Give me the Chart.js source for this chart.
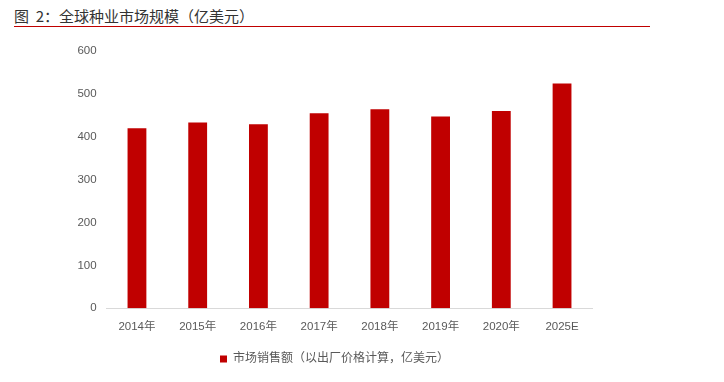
<!DOCTYPE html>
<html>
<head>
<meta charset="utf-8">
<script src="https://cdn.jsdelivr.net/npm/chart.js@4"></script>
<style>
  html, body { margin:0; padding:0; background:#fff; }
  #wrap { position:relative; width:724px; height:382px; overflow:hidden; }
  #title { position:absolute; left:14px; top:6px; width:636px; height:20px;
    border-bottom:1px solid #C00000; font-family:"Noto Sans CJK SC", sans-serif;
    font-size:15px; line-height:20px; color:#333; white-space:pre; }
  canvas { position:absolute; left:0; top:0; }
</style>
</head>
<body>
<div id="wrap">
  <div id="title">图  2：全球种业市场规模（亿美元）</div>
  <canvas id="c" width="724" height="382"></canvas>
</div>
<script>
const categories = ["2014年","2015年","2016年","2017年","2018年","2019年","2020年","2025E"];
const salesValues = [420, 433, 429, 455, 464, 447, 460, 524];
const seriesName = "市场销售额（以出厂价格计算，亿美元）";
const yTicks = [0, 100, 200, 300, 400, 500, 600];

const FONT = '"Liberation Sans", "Noto Sans CJK SC", sans-serif';

new Chart(document.getElementById('c'), {
  type: 'bar',
  data: {
    labels: categories,
    datasets: [{
      label: seriesName,
      data: salesValues,
      backgroundColor: '#C00000',
      borderWidth: 0,
      barPercentage: 0.31,
      categoryPercentage: 1.0
    }]
  },
  options: {
    responsive: false,
    animation: false,
    devicePixelRatio: 1,
    layout: { padding: { top: 51, left: 76.6, right: 131.6, bottom: 7 } },
    plugins: {
      tooltip: { enabled: false },
      legend: {
        position: 'bottom',
        labels: {
          boxWidth: 7, boxHeight: 7, padding: 7,
          color: '#595959',
          font: { family: FONT, size: 12 }
        }
      }
    },
    scales: {
      x: {
        grid: { display: false, drawTicks: false },
        border: { display: true, color: '#d9d9d9', width: 1 },
        ticks: { color: '#595959', font: { family: FONT, size: 11.5 }, padding: 12, maxRotation: 0 }
      },
      y: {
        min: 0, max: 600,
        afterBuildTicks: (s) => { s.ticks = yTicks.map(v => ({ value: v })); },
        afterFit: (s) => { s.width = 30; },
        grid: { display: false, drawTicks: false },
        border: { display: false },
        ticks: { color: '#595959', font: { family: FONT, size: 11.5 }, padding: 10 }
      }
    }
  }
});
</script>
</body>
</html>
